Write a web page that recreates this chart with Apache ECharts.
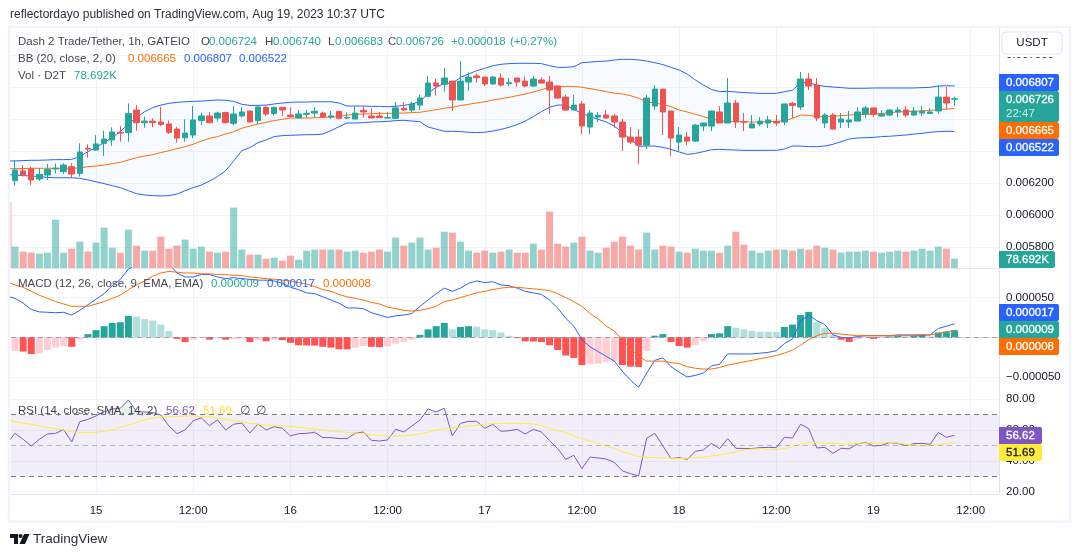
<!DOCTYPE html>
<html>
<head>
<meta charset="utf-8">
<style>html,body{margin:0;padding:0;background:#fff}#chart{width:1080px;height:557px}</style>
<script src="https://cdn.jsdelivr.net/npm/echarts@6/dist/echarts.min.js"></script>
</head>
<body>
<div id="chart"></div>
<script>
// prices and macd are in millionths of USDT
// index 0 is Aug 14 13:00, that bar sits just left of the plot and only its lines show
var candleOpen = [6240,6215,6275,6288,6225,6250,6288,6271,6302,6260,6417,6406,6448,6469,6517,6515,6656,6577,6587,6581,6569,6537,6483,6500,6590,6619,6606,6640,6573,6619,6650,6590,6673,6635,6673,6625,6608,6629,6637,6637,6612,6648,
  6606,6600,6654,6619,6619,6606,6604,6667,6656,6687,6742,6825,6817,6837,6719,6831,6869,6862,6819,6856,6821,6856,6837,6806,6844,6831,6806,6737,6656,6694,6550,6612,6625,6619,6581,6487,6487,6437,6681,6787,6650,6456,6487,6462,6556,6556,6644,6575,6700,6581,6544,6569,6575,6583,6581,6698,6675,6850,6812,6575,6625,6581,6581,6587,6631,6669,6619,6625,6644,6656,6625,6637,6635,6650,6737,6724];
var candleClose = [6215,6281,6250,6219,6254,6285,6292,6312,6256,6394,6412,6444,6475,6519,6512,6635,6577,6587,6577,6565,6517,6481,6512,6594,6619,6577,6637,6577,6631,6644,6581,6675,6631,6673,6656,6615,6631,6635,6648,6612,6619,6604,
  6610,6637,6644,6606,6608,6610,6669,6656,6694,6731,6825,6806,6856,6719,6837,6862,6858,6819,6862,6812,6827,6831,6806,6850,6825,6781,6731,6656,6687,6556,6637,6623,6606,6581,6487,6456,6437,6731,6787,6644,6481,6500,6462,6562,6575,6650,6575,6700,6581,6580,6569,6587,6594,6575,6694,6685,6850,6806,6606,6625,6537,6600,6594,6644,6669,6629,6631,6656,6656,6625,6650,6650,6644,6737,6700,6726];
var candleLow = [6205,6183,6240,6188,6212,6219,6260,6256,6229,6240,6358,6402,6369,6433,6458,6458,6527,6546,6548,6556,6506,6452,6458,6479,6562,6573,6583,6573,6562,6610,6581,6569,6619,6621,6619,6610,6604,6608,6610,6608,6600,6598,
  6600,6600,6608,6604,6606,6602,6600,6652,6642,6656,6740,6746,6771,6650,6719,6777,6827,6806,6812,6802,6806,6802,6798,6802,6823,6631,6725,6650,6656,6506,6506,6581,6604,6544,6400,6444,6319,6412,6656,6500,6369,6394,6437,6456,6525,6525,6575,6575,6544,6525,6544,6556,6544,6556,6562,6606,6656,6781,6587,6544,6537,6544,6544,6587,6606,6612,6612,6619,6612,6612,6619,6619,6631,6631,6662,6683];
var candleHigh = [6260,6344,6312,6302,6292,6319,6323,6323,6323,6448,6442,6500,6527,6548,6556,6698,6687,6615,6604,6677,6590,6552,6598,6681,6640,6644,6646,6646,6681,6673,6650,6677,6681,6677,6673,6673,6656,6656,6673,6646,6650,6650,
  6640,6677,6681,6667,6644,6644,6706,6706,6706,6750,6869,6850,6919,6837,6962,6892,6885,6865,6869,6885,6856,6856,6865,6869,6860,6869,6810,6750,6750,6712,6656,6644,6656,6631,6600,6550,6537,6750,6812,6787,6650,6550,6519,6569,6575,6650,6681,6856,6719,6637,6625,6612,6619,6625,6694,6706,6894,6887,6856,6637,6637,6637,6650,6675,6681,6669,6656,6662,6675,6681,6675,6681,6669,6812,6800,6740];

var bbUpper = [6337,6338,6340,6342,6342,6344,6346,6346,6348,6365,6396,6423,6452,6485,6521,6569,6610,6646,6671,6687,6698,6704,6708,6710,6712,6715,6719,6717,6710,6692,6685,6685,6687,6694,6700,6704,6706,6706,6708,6708,6708,6700,
  6681,6681,6681,6679,6679,6677,6679,6685,6694,6708,6760,6798,6823,6823,6860,6881,6902,6917,6933,6942,6946,6948,6948,6948,6946,6933,6923,6923,6927,6952,6956,6960,6962,6969,6973,6973,6969,6962,6952,6940,6923,6906,6881,6844,6812,6785,6771,6773,6769,6765,6763,6760,6760,6760,6771,6779,6829,6827,6812,6804,6800,6796,6792,6792,6792,6794,6794,6794,6794,6794,6794,6796,6798,6806,6808,6807];
var bbBasis = [6289,6290,6290,6292,6292,6292,6292,6292,6292,6294,6302,6306,6312,6321,6329,6344,6358,6369,6377,6390,6402,6415,6427,6442,6462,6479,6490,6506,6521,6542,6556,6569,6579,6590,6598,6606,6606,6606,6608,6610,6612,6615,
  6625,6629,6631,6633,6635,6635,6637,6637,6640,6642,6650,6658,6667,6673,6683,6692,6700,6708,6719,6727,6735,6746,6756,6769,6783,6798,6802,6804,6804,6798,6790,6781,6771,6762,6756,6746,6729,6708,6698,6692,6677,6656,6644,6629,6615,6600,6590,6585,6585,6583,6581,6581,6585,6585,6590,6604,6625,6623,6615,6615,6617,6621,6625,6627,6629,6631,6635,6640,6644,6646,6648,6650,6654,6658,6662,6665];
var bbLower = [6252,6250,6246,6244,6240,6235,6233,6233,6233,6229,6219,6208,6196,6183,6171,6152,6133,6125,6121,6119,6121,6131,6152,6171,6187,6212,6240,6277,6338,6402,6421,6452,6469,6490,6496,6498,6500,6502,6502,6506,6527,6552,
  6575,6575,6577,6581,6583,6585,6590,6592,6587,6583,6550,6537,6523,6523,6521,6517,6515,6517,6525,6535,6548,6565,6587,6615,6646,6673,6687,6687,6660,6635,6615,6598,6581,6556,6515,6473,6429,6431,6431,6423,6410,6394,6379,6385,6396,6408,6410,6408,6406,6404,6404,6404,6404,6404,6412,6431,6431,6427,6427,6431,6442,6458,6475,6481,6483,6485,6490,6492,6496,6500,6506,6510,6517,6521,6523,6522];

// volume in thousands
var volume = [556,180,138,129,121,129,407,129,163,222,138,214,340,171,129,323,188,146,146,264,163,188,239,163,180,138,129,138,509,155,112,112,79,87,62,104,70,146,155,155,155,155,138,146,129,138,155,138,256,188,214,256,155,171,306,298,222,146,129,146,129,138,155,129,129,205,155,475,205,180,214,264,146,129,171,222,264,188,155,298,155,188,180,138,129,163,146,146,129,188,306,197,146,129,146,155,155,146,163,155,188,171,155,129,138,138,146,138,129,138,146,138,146,163,146,180,163,78.692];

var macdLine = [52,49,43,35,32,31.5,31,31.5,28,34,41,48,55,65,73,86,91,93,95,95,93,81,76,76,79,79,76,74,75,74,73,72,72,71,68,63,60,56,55,51,47,43,37,37,36,31,28,25,27,28,30,39,47,55,62,58,62,68,71,69,70,66,
  65,62,58,56,54,47,37,24,14,-3,-12,-18,-24,-30,-43,-54,-63,-45,-29,-26,-37,-44,-50,-48,-45,-36,-34,-21,-21,-21,-21,-20,-19,-17,-8,-2,20,28,21,16,3,0,-1,1,2,2,2,2,3,3,3,3,3,11,14,17];
var macdSignal = [70,66,63,58,53,49,45,42,39,39,39,42,45,49,53,60,66,71,77,81,83,82,81,81,80,80,79,79,78,78,76,75,74,73,72,71,69,67,64,60,58,54,51,49,47,44,42,38,36,34,33,34,36,39,45,47,50,53,56,58,60,62,
  63,63,62,61,60,59,55,50,45,39,30,23,14,8,-3,-14,-24,-30,-30,-30,-32,-33,-37,-39,-40,-40,-38,-35,-33,-31,-29,-27,-25,-23,-20,-16,-10,-3,2,5,5,4,3,2,2,2,2,2,2,2,2,3,3,5,7,8];
var macdHist = [-18,-17,-18,-21,-20,-16,-13,-11,-12,-2.5,4,9,14,18,19,27,26,23,21,16,8,-2,-6,-3,-0.4,-3,-1,-3,-2.5,-2,-6,-3,-5,-3,-3.5,-7,-10,-10.2,-10.4,-12,-13,-15,-15.2,-13,-11,-12,-12.5,-11.5,-8,-6,-3,3,10,14,18,10,13,14,13.5,10,9,6,
  2,-1,-5,-5.3,-6,-10,-16,-23,-26,-35,-34,-33,-31,-30,-35,-37,-37.5,-17,2,4,-6,-11,-13,-10,-5,4,5,14,12,10,8,7,6.9,6.8,13,16,28,32,19,12,3,-3,-6,-3,-0.5,-2,-1,1,2,1,2,3,1,6,7,9];

var rsiLine = [51.4,57.9,54,49.7,54,57.5,57.9,60.3,52.3,65.5,67,69.2,72,73.7,74.2,79.6,72,71.8,71.4,69.8,62.7,57.7,60.1,66.1,67.9,62.9,66.6,60.1,63.8,64.6,58.1,64,60.1,62.2,61.2,56.2,57.7,57.9,58.6,55.1,55.1,54.5,54.5,57.9,58.8,53.4,52.9,53.6,60.5,58.8,62.7,66.6,73.7,71.8,74.2,56.2,64.4,65.7,65.7,61.2,63.8,59.2,59.6,60.5,
  57.5,60.5,58.8,53.2,48,41,43.6,35,42.5,41.9,41.2,39,33.5,31.7,30.2,54.7,57.9,49.7,41.5,42.1,41,46.2,47.1,51.4,48,54.5,48.2,48,48,48.6,48.8,48.6,55.3,54.9,63.8,61,48.4,48.8,44.9,48.2,47.8,51,52,49.7,50.1,51.9,51.4,49.9,51.2,51.4,50.8,58.4,55.3,56.62];
var rsiAvg = [66.4,65.5,64.4,63.8,62.7,61.8,60.9,60.1,58.8,58.6,58.4,58.6,59.2,60.1,61.8,63.3,64.8,66.6,67.7,68.5,68.7,68.7,69.2,69.2,68.7,68.5,67.9,67,66.1,65.3,64.4,63.8,63.3,62.9,62.7,62.5,61.8,61.2,60.7,60.1,59.4,59,58.6,58.1,57.7,56.8,56.4,56.2,56,56.2,56.8,57.5,58.6,60.1,60.9,61.2,61.8,62.7,63.1,63.8,64.2,64.4,64.4,64.4,
  64.4,64,62.9,61.2,59.6,58.4,56.2,54.2,52.9,51.4,49.7,48.2,46,44.3,42.8,42.3,42.1,41.9,41.7,41.5,41.7,42.1,42.5,43.2,43.8,44.9,45.8,47.1,47.7,48,47.3,47.3,48,49.3,50.8,52.1,51.9,51.6,51.4,51,51,51.4,51.6,51.6,51.6,52.1,51.6,50.8,50.3,49.7,50.1,50.6,51.2,51.69];

var priceTicks = [5800,6000,6200,6400,6600,6800,7000];
var macdTicks = [-50,50];
var rsiTicks = [20,40,60,80];
var barCount = 123;

var GREEN = '#26a69a', RED = '#ef5350', BLUE = '#2962ff', ORANGE = '#ff6d00', PURPLE = '#7e57c2', YELLOW = '#ffeb3b';
var DARK = '#434651', GOLD = '#fdd835';
var GRID = '#f0f3fa', BORDER = '#e0e3eb', TEXT = '#131722';
var FONT = '"Liberation Sans", Arial, sans-serif';
var SMALL = 11.5;

// legend rows: y, then [x, text, colour] pieces
var legendRows = [
    [42, [[18, 'Dash 2 Trade/Tether, 1h, GATEIO', DARK], [201, 'O', DARK], [209, '0.006724', GREEN], [265, 'H', DARK], [273, '0.006740', GREEN],
          [328, 'L', DARK], [335, '0.006683', GREEN], [388, 'C', DARK], [396, '0.006726', GREEN], [451, '+0.000018', GREEN], [510, '(+0.27%)', GREEN]]],
    [59, [[18, 'BB (20, close, 2, 0)', DARK], [128, '0.006665', ORANGE], [184, '0.006807', BLUE], [239, '0.006522', BLUE]]],
    [76, [[18, 'Vol \u00b7 D2T', DARK], [74, '78.692K', GREEN]]],
    [284, [[18, 'MACD (12, 26, close, 9, EMA, EMA)', DARK], [211, '0.000009', GREEN], [267, '0.000017', BLUE], [323, '0.000008', ORANGE]]],
    [411, [[18, 'RSI (14, close, SMA, 14, 2)', DARK], [166, '56.62', PURPLE], [203, '51.69', GOLD], [240, '\u2205', DARK], [256, '\u2205', DARK]]]
];

// time labels
var categories = [];
for (var i = 0; i < barCount; i++) {
    var hour = (13 + i) % 24;
    var day = 14 + Math.floor((13 + i) / 24);
    categories.push(hour === 0 ? String(day) : hour === 12 ? '12:00' : '');
}
function hasLabel(index) { return categories[index] !== ''; }

var candles = candleOpen.map(function (o, i) { return [o, candleClose[i], candleLow[i], candleHigh[i]]; });
var bandWidth = bbUpper.map(function (u, i) { return u - bbLower[i]; });
var volBars = volume.map(function (v, i) {
    var up = candleClose[i] >= candleOpen[i];
    return { value: v, itemStyle: { color: up ? 'rgba(38,166,154,0.5)' : 'rgba(239,83,80,0.5)' } };
});
var histBars = macdHist.map(function (v, i) {
    var prev = i ? macdHist[i - 1] : 0;
    var c = v >= 0 ? (v > prev ? '#26a69a' : '#b2dfdb') : (v < prev ? '#ff5252' : '#ffcdd2');
    return { value: v, itemStyle: { color: c } };
});
var rsiBase = rsiLine.map(function (v) { return v > 70 ? 70 : '-'; });
var rsiOver = rsiLine.map(function (v) { return v > 70 ? v - 70 : '-'; });

function xAxis(grid, withLabels) {
    return {
        type: 'category', gridIndex: grid, data: categories, boundaryGap: true, min: 1, max: barCount - 1,
        axisLine: { show: true, lineStyle: { color: BORDER, width: 1 } },
        axisTick: { show: false, alignWithLabel: true, interval: hasLabel },
        splitLine: { show: true, alignWithLabel: true, interval: hasLabel, lineStyle: { color: GRID, width: 1 } },
        axisLabel: { show: withLabels, interval: hasLabel, color: TEXT, fontFamily: FONT, fontSize: SMALL, margin: 11 }
    };
}
function yAxis(grid, min, max, ticks, fmt) {
    return {
        type: 'value', gridIndex: grid, position: 'right', min: min, max: max, scale: true,
        axisLine: { show: true, lineStyle: { color: BORDER, width: 1 } },
        axisTick: { show: false, customValues: ticks },
        splitLine: { show: true, lineStyle: { color: GRID, width: 1 } },
        axisLabel: { customValues: ticks, formatter: fmt, color: TEXT, fontFamily: FONT, fontSize: SMALL, margin: 7 }
    };
}
function line(name, data, color, xi, yi, z) {
    return {
        name: name, type: 'line', data: data, xAxisIndex: xi, yAxisIndex: yi, showSymbol: false, symbol: 'none',
        lineStyle: { color: color, width: 1 }, itemStyle: { color: color }, z: z || 3, silent: true, animation: false
    };
}
function dashed(y, color) {
    return { yAxis: y, lineStyle: { color: color, type: [5, 4], width: 1 } };
}

// text helpers for the overlays
function text(x, y, str, color, z) {
    return { type: 'text', x: x, y: y, z: z || 50, style: { text: str, fill: color, fontFamily: FONT, fontSize: SMALL, verticalAlign: 'middle' } };
}
function tagText(x, y, str, color) {
    var t = text(x, y, str, color, 61);
    t.style.stroke = color;
    t.style.lineWidth = 0.3;
    return t;
}
function tag(x, y, w, h, bg, fg, str) {
    return [
        { type: 'rect', z: 60, shape: { x: x, y: y, width: w, height: h, r: [0, 2, 2, 0] }, style: { fill: bg } },
        tagText(x + 7, y + h / 2, str, fg)
    ];
}

var legendTexts = [];
legendRows.forEach(function (row) {
    row[1].forEach(function (p) { legendTexts.push(text(p[0], row[0], p[1], p[2])); });
});

var overlays = [
    // frame around the chart
    { type: 'rect', z: 40, shape: { x: 9, y: 27, width: 1061, height: 494.5 }, style: { fill: 'none', stroke: GRID, lineWidth: 2.5 } },
    // clipped volume bar from the hour before the first candle
    { type: 'line', z: 2, shape: { x1: 11, y1: 202, x2: 11, y2: 268 }, style: { stroke: 'rgba(239,83,80,0.5)', lineWidth: 1 } },
    { type: 'text', z: 50, x: 10, y: 15, style: { text: 'reflectordayo published on TradingView.com, Aug 19, 2023 10:37 UTC', fill: '#2a2e39', fontFamily: FONT, fontSize: 12, verticalAlign: 'middle' } },
    // currency button, with the white strip that hides most of the top price label
    { type: 'rect', z: 59, shape: { x: 1000, y: 28, width: 68, height: 29 }, style: { fill: '#fff' } },
    { type: 'rect', z: 60, shape: { x: 1002, y: 32, width: 60, height: 22, r: 4 }, style: { fill: '#fff', stroke: BORDER, lineWidth: 1 } },
    { type: 'text', z: 61, x: 1032, y: 43, style: { text: 'USDT', fill: TEXT, fontFamily: FONT, fontSize: SMALL, align: 'center', verticalAlign: 'middle' } },
    // brand mark
    { type: 'polygon', z: 50, shape: { points: [[10, 534], [18, 534], [18, 544], [14, 544], [14, 538], [10, 538]] }, style: { fill: TEXT } },
    { type: 'circle', z: 50, shape: { cx: 20.5, cy: 536, r: 2 }, style: { fill: TEXT } },
    { type: 'polygon', z: 50, shape: { points: [[24, 534], [29.5, 534], [25, 544], [19.5, 544]] }, style: { fill: TEXT } },
    { type: 'text', z: 50, x: 33, y: 539, style: { text: 'TradingView', fill: '#2a2e39', fontFamily: FONT, fontSize: 13.5, verticalAlign: 'middle' } }
].concat(
    legendTexts,
    tag(999, 74, 60, 17, BLUE, '#fff', '0.006807'),
    tag(999, 91, 60, 31, GREEN, '#fff', ''),
    [tagText(1006, 100, '0.006726', '#fff'), text(1006, 113.5, '22:47', '#d4eeeb', 61)],
    tag(999, 122, 60, 17, ORANGE, '#fff', '0.006665'),
    tag(999, 139, 60, 17, BLUE, '#fff', '0.006522'),
    tag(999, 251, 56, 17, GREEN, '#fff', '78.692K'),
    tag(999, 304, 60, 17, BLUE, '#fff', '0.000017'),
    tag(999, 321, 60, 17, GREEN, '#fff', '0.000009'),
    tag(999, 338, 60, 17, ORANGE, '#fff', '0.000008'),
    tag(999, 427, 43, 17, PURPLE, '#fff', '56.62'),
    tag(999, 444, 43, 17, YELLOW, TEXT, '51.69')
);

var chart = echarts.init(document.getElementById('chart'), null, { renderer: 'canvas' });
chart.setOption({
    animation: false,
    backgroundColor: '#fff',
    grid: [
        { left: 11, width: 988, top: 28, height: 240 },
        { left: 11, width: 988, top: 268, height: 127 },
        { left: 11, width: 988, top: 395, height: 99 }
    ],
    xAxis: [xAxis(0, false), xAxis(1, false), xAxis(2, true)],
    yAxis: [
        yAxis(0, 5668.75, 7168.75, priceTicks, function (v) { return (v / 1e6).toFixed(6); }),
        { type: 'value', gridIndex: 0, min: 0, max: 2023, show: false, splitLine: { show: false } },
        yAxis(1, -72.7, 87.3, macdTicks, function (v) { return (v < 0 ? '\u2212' : '') + (Math.abs(v) / 1e6).toFixed(6); }),
        yAxis(2, 18.5, 82.8, rsiTicks, function (v) { return v.toFixed(2); })
    ],
    graphic: { elements: overlays },
    series: [
        // volume underneath the price
        { name: 'Vol', type: 'bar', data: volBars, xAxisIndex: 0, yAxisIndex: 1, barWidth: 7, z: 1, silent: true },
        // bollinger band fill, lower edge plus width
        Object.assign(line('bbBase', bbLower, 'rgba(0,0,0,0)', 0, 0, 2), { stack: 'bb', lineStyle: { width: 0 } }),
        Object.assign(line('bbFill', bandWidth, 'rgba(0,0,0,0)', 0, 0, 2), { stack: 'bb', lineStyle: { width: 0 }, areaStyle: { color: 'rgba(33,150,243,0.05)' } }),
        line('BB upper', bbUpper, BLUE, 0, 0, 3),
        line('BB lower', bbLower, BLUE, 0, 0, 3),
        line('BB basis', bbBasis, ORANGE, 0, 0, 3),
        {
            name: 'Price', type: 'candlestick', data: candles, xAxisIndex: 0, yAxisIndex: 0, barWidth: 6, z: 4, silent: true,
            itemStyle: { color: GREEN, color0: RED, borderColor: GREEN, borderColor0: RED, borderWidth: 1 }
        },
        {
            name: 'Histogram', type: 'bar', data: histBars, xAxisIndex: 1, yAxisIndex: 2, barWidth: 7, z: 2, silent: true,
            markLine: { silent: true, symbol: 'none', label: { show: false }, animation: false, data: [dashed(0, 'rgba(120,123,134,0.6)')] }
        },
        line('MACD', macdLine, BLUE, 1, 2, 3),
        line('Signal', macdSignal, ORANGE, 1, 2, 3),
        Object.assign(line('rsiBase', rsiBase, 'rgba(0,0,0,0)', 2, 3, 1), { stack: 'rsi', lineStyle: { width: 0 } }),
        Object.assign(line('rsiOver', rsiOver, 'rgba(0,0,0,0)', 2, 3, 1), { stack: 'rsi', lineStyle: { width: 0 }, areaStyle: { color: 'rgba(76,175,80,0.2)' } }),
        Object.assign(line('RSI', rsiLine, PURPLE, 2, 3, 3), {
            markArea: { silent: true, itemStyle: { color: 'rgba(126,87,194,0.1)' }, data: [[{ yAxis: 30 }, { yAxis: 70 }]] },
            markLine: {
                silent: true, symbol: 'none', label: { show: false }, animation: false,
                data: [dashed(70, '#787b86'), dashed(50, 'rgba(120,123,134,0.5)'), dashed(30, '#787b86')]
            }
        }),
        line('RSI MA', rsiAvg, YELLOW, 2, 3, 3)
    ]
});
</script>
</body>
</html>
